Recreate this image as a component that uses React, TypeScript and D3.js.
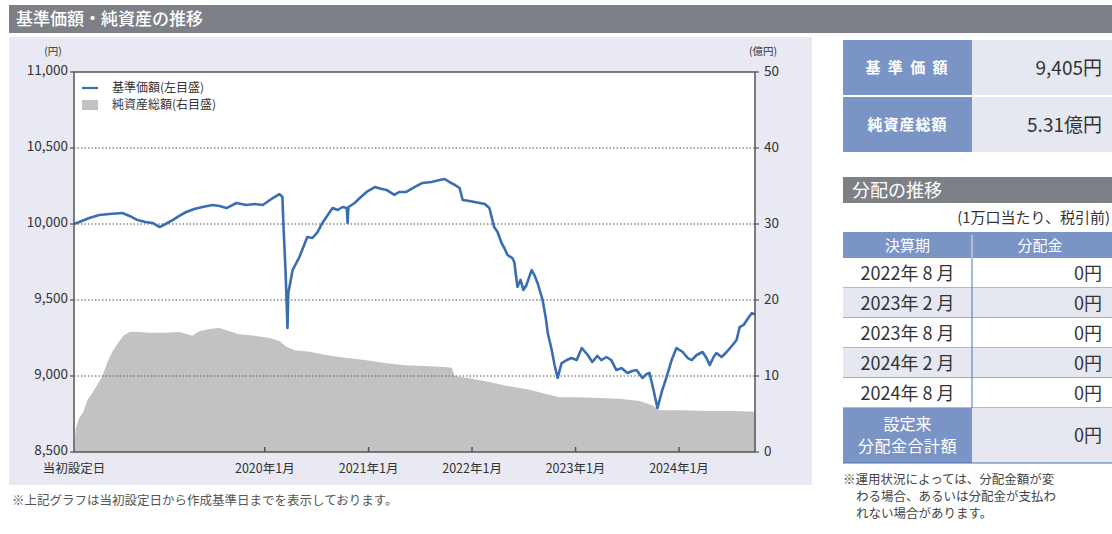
import React from 'react';
import * as d3 from 'd3';

// 基準価額 (円)
const navPoints: [string, number][] = [
  ['2018-02-27', 10000], ['2018-03-18', 10013], ['2018-04-22', 10039], ['2018-05-27', 10059],
  ['2018-07-02', 10066], ['2018-08-17', 10072], ['2018-09-11', 10053], ['2018-10-09', 10026],
  ['2018-11-06', 10013], ['2018-12-01', 10007], ['2018-12-26', 9980], ['2019-01-16', 10000],
  ['2019-02-10', 10026], ['2019-03-05', 10053], ['2019-03-30', 10079], ['2019-04-27', 10099],
  ['2019-05-26', 10112], ['2019-07-01', 10125], ['2019-07-25', 10118], ['2019-08-19', 10105],
  ['2019-09-23', 10138], ['2019-10-28', 10125], ['2019-11-26', 10132], ['2019-12-25', 10125],
  ['2020-01-29', 10171], ['2020-02-22', 10197], ['2020-03-03', 10178], ['2020-03-07', 9980],
  ['2020-03-14', 9697], ['2020-03-21', 9316], ['2020-03-24', 9546], ['2020-04-08', 9697],
  ['2020-05-02', 9783], ['2020-05-30', 9914], ['2020-06-17', 9908], ['2020-07-05', 9947],
  ['2020-07-22', 10007], ['2020-08-27', 10105], ['2020-09-14', 10092], ['2020-10-01', 10112],
  ['2020-10-16', 10105], ['2020-10-19', 10007], ['2020-10-22', 10112], ['2020-11-13', 10138],
  ['2020-12-01', 10171], ['2020-12-25', 10211], ['2021-01-23', 10243], ['2021-02-17', 10230],
  ['2021-03-05', 10224], ['2021-04-02', 10191], ['2021-04-20', 10211], ['2021-05-14', 10211],
  ['2021-06-12', 10243], ['2021-07-10', 10270], ['2021-08-11', 10276], ['2021-09-09', 10289],
  ['2021-09-26', 10296], ['2021-10-14', 10276], ['2021-11-01', 10257], ['2021-11-18', 10237],
  ['2021-11-29', 10158], ['2021-12-23', 10151], ['2022-01-28', 10138], ['2022-02-15', 10132],
  ['2022-03-03', 10105], ['2022-03-20', 9980], ['2022-04-01', 9947], ['2022-04-15', 9875],
  ['2022-04-25', 9842], ['2022-05-06', 9796], ['2022-05-23', 9776], ['2022-05-30', 9750],
  ['2022-06-10', 9586], ['2022-06-21', 9632], ['2022-07-01', 9566], ['2022-07-12', 9599],
  ['2022-07-30', 9697], ['2022-08-09', 9664], ['2022-08-20', 9612], ['2022-09-07', 9500],
  ['2022-09-18', 9382], ['2022-09-25', 9283], ['2022-10-09', 9171], ['2022-10-19', 9072],
  ['2022-10-30', 8987], ['2022-11-06', 9039], ['2022-11-13', 9085], ['2022-12-01', 9105],
  ['2022-12-18', 9118], ['2023-01-05', 9105], ['2023-01-23', 9184], ['2023-02-13', 9138],
  ['2023-03-01', 9092], ['2023-03-19', 9132], ['2023-04-02', 9105], ['2023-04-20', 9125],
  ['2023-05-07', 9105], ['2023-05-25', 9039], ['2023-06-12', 9052], ['2023-07-03', 9020],
  ['2023-07-20', 9033], ['2023-08-04', 9039], ['2023-08-25', 8987], ['2023-09-09', 9013],
  ['2023-09-19', 9020], ['2023-10-03', 8908], ['2023-10-17', 8789], ['2023-11-01', 8895],
  ['2023-11-18', 8993], ['2023-12-06', 9105], ['2023-12-23', 9184], ['2024-01-14', 9158],
  ['2024-02-01', 9118], ['2024-02-15', 9105], ['2024-03-03', 9138], ['2024-03-24', 9158],
  ['2024-04-07', 9118], ['2024-04-18', 9072], ['2024-05-02', 9125], ['2024-05-12', 9151],
  ['2024-05-30', 9125], ['2024-06-17', 9158], ['2024-07-08', 9204], ['2024-07-22', 9237],
  ['2024-08-02', 9322], ['2024-08-16', 9336], ['2024-09-01', 9382], ['2024-09-14', 9414],
  ['2024-09-25', 9405],
];

// 純資産総額 (億円)
const assetPoints: [string, number][] = [
  ['2018-02-27', 0], ['2018-03-01', 1.6], ['2018-03-06', 3.2], ['2018-03-18', 4.5],
  ['2018-04-01', 5.3], ['2018-04-15', 6.8], ['2018-05-03', 7.8], ['2018-05-20', 8.8],
  ['2018-06-07', 10.0], ['2018-06-25', 11.8], ['2018-07-12', 13.2], ['2018-07-30', 14.2],
  ['2018-08-20', 15.3], ['2018-09-11', 15.8], ['2018-10-16', 15.8], ['2018-11-20', 15.7],
  ['2019-01-12', 15.7], ['2019-03-05', 15.8], ['2019-04-02', 15.5], ['2019-04-20', 15.3],
  ['2019-05-15', 15.9], ['2019-06-19', 16.2], ['2019-07-25', 16.3], ['2019-08-29', 15.9],
  ['2019-10-03', 15.5], ['2019-11-26', 15.3], ['2020-01-18', 15.0], ['2020-02-22', 14.6],
  ['2020-03-14', 13.9], ['2020-04-15', 13.4], ['2020-06-07', 13.2], ['2020-07-30', 12.8],
  ['2020-10-09', 12.4], ['2020-12-18', 12.1], ['2021-02-28', 11.7], ['2021-05-08', 11.4],
  ['2021-07-17', 11.3], ['2021-09-26', 11.2], ['2021-10-21', 11.1], ['2021-11-01', 10.0],
  ['2021-12-23', 9.7], ['2022-03-03', 9.2], ['2022-05-06', 8.7], ['2022-07-23', 8.2],
  ['2022-10-02', 7.5], ['2022-11-06', 7.2], ['2023-01-16', 7.2], ['2023-03-26', 7.1],
  ['2023-06-05', 7.0], ['2023-08-15', 6.7], ['2023-09-26', 6.2], ['2023-10-25', 5.5],
  ['2024-01-04', 5.5], ['2024-04-18', 5.4], ['2024-07-15', 5.4], ['2024-09-25', 5.31],
];

const leftTicks = [8500, 9000, 9500, 10000, 10500, 11000];
const rightTicks = [0, 10, 20, 30, 40, 50];
const xTickDates = ['2018-02-27', '2020-01-01', '2021-01-01', '2022-01-01', '2023-01-01', '2024-01-01'];
const xTickLabels = ['当初設定日', '2020年1月', '2021年1月', '2022年1月', '2023年1月', '2024年1月'];

const summaryLabels = ['基 準 価 額', '純資産総額'];
const summaryValues = ['9,405円', '5.31億円'];

const distPeriods = ['2022年 8 月', '2023年 2 月', '2023年 8 月', '2024年 2 月', '2024年 8 月'];
const distAmounts = ['0円', '0円', '0円', '0円', '0円'];
const distTotal = '0円';

const noteLines = [
  '※運用状況によっては、分配金額が変',
  'わる場合、あるいは分配金が支払わ',
  'れない場合があります。',
];

const FONT = '"Noto Sans CJK JP", "Noto Sans", sans-serif';
const BLUE_CELL = '#7a94c6';
const LAVENDER = '#e6e8f1';
const parse = d3.timeParse('%Y-%m-%d');

export default function App() {
  const plot = { left: 74, right: 755, top: 72, bottom: 452 };

  const x = d3
    .scaleTime()
    .domain([parse('2018-02-27')!, parse('2024-09-25')!])
    .range([plot.left, plot.right]);
  const yLeft = d3.scaleLinear().domain([8500, 11000]).range([plot.bottom, plot.top]);
  const yRight = d3.scaleLinear().domain([0, 50]).range([plot.bottom, plot.top]);

  const line = d3
    .line<[string, number]>()
    .x((d) => x(parse(d[0])!))
    .y((d) => yLeft(d[1]));
  const area = d3
    .area<[string, number]>()
    .x((d) => x(parse(d[0])!))
    .y0(plot.bottom)
    .y1((d) => yRight(d[1]));

  const fmt = d3.format(',');

  // right panel table layout
  const tx0 = 843;
  const tx1 = 972;
  const tx2 = 1112;
  const headTop = 232;
  const headH = 26;
  const rowH = 30;
  const rowsTop = headTop + headH;
  const totalTop = rowsTop + rowH * distPeriods.length;
  const totalH = 55;

  return (
    <svg
      width={1112}
      height={534}
      style={{ position: 'absolute', left: 0, top: 0, fontFamily: FONT }}
    >
      <rect x={0} y={0} width={1112} height={534} fill="#fff" />

      {/* title bar */}
      <rect x={9} y={5} width={1103} height={28} fill="#7d8187" />
      <text x={16} y={25} fill="#fff" fontSize={17} fontWeight={500}>
        基準価額・純資産の推移
      </text>

      {/* chart panel */}
      <rect x={9} y={37} width={803} height={448} fill="#e8e9f2" />
      <rect
        x={plot.left}
        y={plot.top}
        width={plot.right - plot.left}
        height={plot.bottom - plot.top}
        fill="#fff"
      />

      <path d={area(assetPoints) || ''} fill="#c2c2c2" />

      {/* grid */}
      {leftTicks.slice(1, -1).map((t) => (
        <line
          key={t}
          x1={plot.left}
          x2={plot.right}
          y1={yLeft(t)}
          y2={yLeft(t)}
          stroke="#555"
          strokeWidth={1.2}
          strokeDasharray="1.5,2"
        />
      ))}

      <path
        d={line(navPoints) || ''}
        fill="none"
        stroke="#3b6db3"
        strokeWidth={2.6}
        strokeLinejoin="round"
      />

      {/* frame */}
      <rect
        x={plot.left}
        y={plot.top}
        width={plot.right - plot.left}
        height={plot.bottom - plot.top}
        fill="none"
        stroke="#555"
        strokeWidth={1.5}
      />

      {/* left axis */}
      {leftTicks.map((t) => (
        <g key={t}>
          <line x1={plot.left - 4} x2={plot.left} y1={yLeft(t)} y2={yLeft(t)} stroke="#555" strokeWidth={1.2} />
          <text x={plot.left - 6} y={yLeft(t) + 3} textAnchor="end" fontSize={13.5} fill="#333">
            {fmt(t)}
          </text>
        </g>
      ))}
      <text x={53} y={55} textAnchor="middle" fontSize={10.5} fill="#333">
        (円)
      </text>

      {/* right axis */}
      {rightTicks.map((t) => (
        <g key={t}>
          <line x1={plot.right} x2={plot.right + 4} y1={yRight(t)} y2={yRight(t)} stroke="#555" strokeWidth={1.2} />
          <text x={plot.right + 9} y={yRight(t) + 4} fontSize={13.5} fill="#333">
            {t}
          </text>
        </g>
      ))}
      <text x={763} y={55} textAnchor="middle" fontSize={10.5} fill="#333">
        (億円)
      </text>

      {/* x axis */}
      {xTickDates.map((d, i) => (
        <g key={d}>
          {i > 0 && (
            <line
              x1={x(parse(d)!)}
              x2={x(parse(d)!)}
              y1={plot.bottom}
              y2={plot.bottom - 5}
              stroke="#555"
              strokeWidth={1.5}
            />
          )}
          <text x={x(parse(d)!)} y={473} textAnchor="middle" fontSize={12.5} fill="#333">
            {xTickLabels[i]}
          </text>
        </g>
      ))}

      {/* legend */}
      <line x1={82} x2={98} y1={88} y2={88} stroke="#3b6db3" strokeWidth={2.2} />
      <text x={112} y={92} fontSize={12} fill="#333">
        基準価額(左目盛)
      </text>
      <rect x={82} y={100} width={16} height={10} fill="#c2c2c2" />
      <text x={112} y={109} fontSize={12} fill="#333">
        純資産総額(右目盛)
      </text>

      <text x={12} y={505} fontSize={12.5} fill="#555">
        ※上記グラフは当初設定日から作成基準日までを表示しております。
      </text>

      {/* summary box */}
      {summaryLabels.map((lab, i) => {
        const top = 40 + i * 57;
        return (
          <g key={lab}>
            <rect x={tx0} y={top} width={tx1 - tx0} height={55} fill={BLUE_CELL} />
            <rect x={tx1} y={top} width={tx2 - tx1} height={55} fill={LAVENDER} />
            <text
              x={(tx0 + tx1) / 2}
              y={top + 33}
              textAnchor="middle"
              fontSize={15}
              fontWeight={700}
              fill="#fff"
              letterSpacing={i === 0 ? 2 : 1}
            >
              {lab}
            </text>
            <text x={1102} y={top + 35} textAnchor="end" fontSize={19} fill="#333">
              {summaryValues[i]}
            </text>
          </g>
        );
      })}

      {/* distribution */}
      <rect x={tx0} y={177} width={tx2 - tx0} height={26} fill="#7d8187" />
      <text x={852} y={197} fontSize={18} fill="#fff">
        分配の推移
      </text>
      <text x={1110} y={223} textAnchor="end" fontSize={15} fill="#333">
        (1万口当たり、税引前)
      </text>

      <rect x={tx0} y={headTop} width={tx2 - tx0} height={headH} fill={BLUE_CELL} />
      <text x={(tx0 + tx1) / 2} y={headTop + 19} textAnchor="middle" fontSize={15} fill="#fff">
        決算期
      </text>
      <text x={1040} y={headTop + 19} textAnchor="middle" fontSize={15} fill="#fff">
        分配金
      </text>
      <line x1={tx1} x2={tx1} y1={headTop + 3} y2={headTop + headH} stroke="#e6e8f1" strokeWidth={1} />

      {distPeriods.map((p, i) => {
        const top = rowsTop + i * rowH;
        return (
          <g key={p}>
            <rect x={tx0} y={top} width={tx2 - tx0} height={rowH} fill={i % 2 === 1 ? LAVENDER : '#fff'} />
            <line x1={tx0} x2={tx2} y1={top + rowH} y2={top + rowH} stroke="#4f72ad" strokeWidth={1} />
            <text x={(tx0 + tx1) / 2} y={top + 22} textAnchor="middle" fontSize={18} fill="#333">
              {p}
            </text>
            <text x={1102} y={top + 22} textAnchor="end" fontSize={18} fill="#333">
              {distAmounts[i]}
            </text>
          </g>
        );
      })}
      <line x1={tx1} x2={tx1} y1={rowsTop} y2={totalTop} stroke="#4f72ad" strokeWidth={1} />

      <rect x={tx0} y={totalTop} width={tx1 - tx0} height={totalH} fill={BLUE_CELL} />
      <rect x={tx1} y={totalTop} width={tx2 - tx1} height={totalH} fill={LAVENDER} />
      <text x={(tx0 + tx1) / 2} y={totalTop + 22} textAnchor="middle" fontSize={16} fill="#fff">
        設定来
      </text>
      <text x={(tx0 + tx1) / 2} y={totalTop + 44} textAnchor="middle" fontSize={16} fill="#fff" letterSpacing={0.5}>
        分配金合計額
      </text>
      <text x={1102} y={totalTop + 34} textAnchor="end" fontSize={18} fill="#333">
        {distTotal}
      </text>
      <line x1={tx0} x2={tx2} y1={totalTop + totalH} y2={totalTop + totalH} stroke="#4f72ad" strokeWidth={1} />

      {noteLines.map((t, i) => (
        <text key={t} x={i === 0 ? 843 : 856} y={484 + i * 17} fontSize={12.5} fill="#444">
          {t}
        </text>
      ))}
    </svg>
  );
}
